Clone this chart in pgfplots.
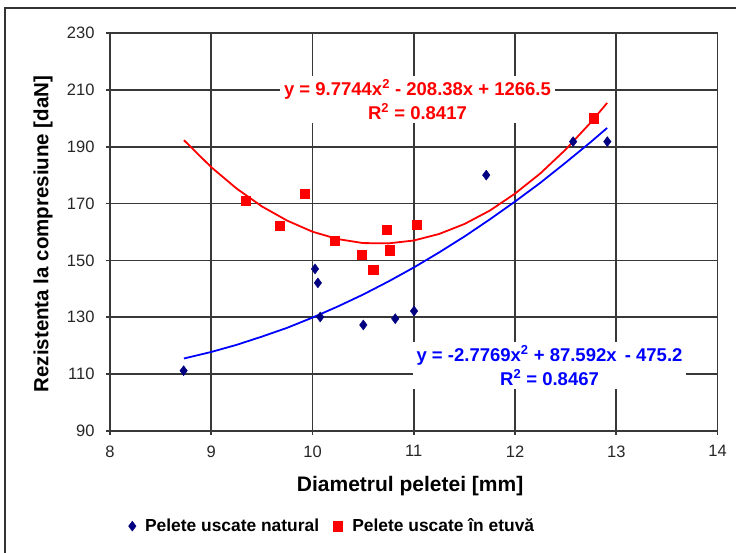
\documentclass[border=0pt]{standalone}
\usepackage{pgfplots}
\pgfplotsset{compat=1.18}
\usepackage{fontspec}
\setmainfont{Liberation Sans}
\definecolor{navy}{HTML}{000080}
\definecolor{gridc}{HTML}{383838}
\definecolor{bluel}{HTML}{0000FF}
\definecolor{redl}{HTML}{FF0000}

\pgfplotstableread{
x y
8.727 111.2
10.025 147.0
10.053 142.1
10.076 130.1
10.502 127.3
10.817 129.5
11.003 132.2
11.716 180.0
12.574 191.8
12.912 191.8
}\natural

\pgfplotstableread{
x y
9.344 171.1
9.677 162.2
9.923 173.4
10.220 157.0
10.484 152.0
10.600 146.7
10.729 160.8
10.766 153.6
11.026 162.7
12.778 200.0
}\etuva

\pgfplotstableread{
x y
8.73 115.5
9.00 117.8
9.25 120.3
9.50 123.2
9.75 126.3
10.00 129.9
10.25 133.8
10.50 138.0
10.75 142.6
11.00 147.5
11.25 152.8
11.50 158.4
11.75 164.4
12.00 170.7
12.25 177.3
12.50 184.4
12.75 191.7
12.91 196.6
}\trendnat

\pgfplotstableread{
x y
8.73 192.3
9.00 182.8
9.25 175.3
9.50 169.0
9.75 164.0
10.00 160.1
10.25 157.5
10.50 156.1
10.75 156.0
11.00 157.0
11.25 159.3
11.50 162.8
11.75 167.5
12.00 173.5
12.25 180.6
12.50 189.0
12.75 198.6
12.91 205.4
}\trendet

\begin{document}
\begin{tikzpicture}
\useasboundingbox (0pt,0pt) rectangle (736pt,553pt);
\draw[line width=1.4pt, black!80] (5pt,0pt) -- (5pt,545pt) -- (736pt,545pt);
\begin{axis}[
  at={(110pt,122pt)}, anchor=south west,
  scale only axis, width=607.5pt, height=398pt,
  xmin=8, xmax=14, ymin=90, ymax=230,
  xtick={8,...,14}, ytick={90,110,...,230},
  grid=major, major grid style={gridc, line width=1.6pt},
  axis line style={gridc, line width=1.6pt},
  tick align=center, tick pos=left, major tick length=8pt,
  tick style={gridc, line width=1.6pt},
  /pgf/number format/assume math mode=true,
  tick label style={font=\fontsize{16.5}{18}\selectfont, text=black!85},
  xticklabel style={yshift=-7pt},
  yticklabel style={xshift=-8pt},
  xlabel={Diametrul peletei [mm]},
  ylabel={Rezistenta la compresiune [daN]},
  label style={font=\bfseries\fontsize{21}{24}\selectfont},
  xlabel style={at={(rel axis cs:0.494,-0.138)}, anchor=center},
  ylabel style={at={(rel axis cs:-0.110,0.495)}, anchor=center, font=\bfseries\fontsize{20.5}{24}\selectfont},
  legend style={at={(rel axis cs:0.366,-0.239)}, anchor=center, draw=none, fill=none,
    font=\bfseries\fontsize{17.4}{20}\selectfont,
    /tikz/every even column/.append style={column sep=12pt}},
  legend columns=2,
  legend cell align=left,
]
\addplot[bluel, line width=1.8pt, forget plot] table[x=x,y=y] {\trendnat};
\addplot[redl, line width=1.8pt, forget plot] table[x=x,y=y] {\trendet};
\addplot[only marks, mark=diamond*, mark size=5pt, navy, mark options={fill=navy}] table[x=x,y=y] {\natural};
\addlegendentry{\hspace*{7pt}Pelete uscate natural}
\addplot[only marks, mark=square*, mark size=4.6pt, redl, mark options={fill=redl}] table[x=x,y=y] {\etuva};
\addlegendentry{\hspace*{8pt}Pelete uscate în etuvă}
\node[fill=white, align=center, text=redl, inner xsep=4pt, inner ysep=4pt,
  font=\bfseries\fontsize{18.5}{24}\selectfont]
  at (axis cs:11.037,206.6) {y = 9.7744x\textsuperscript{2} - 208.38x + 1266.5\\R\textsuperscript{2} = 0.8417};
\node[fill=white, align=center, text=bluel, inner xsep=4pt, inner ysep=4pt,
  font=\bfseries\fontsize{18.5}{24}\selectfont]
  at (axis cs:12.341,113.0) {y = -2.7769x\textsuperscript{2} + 87.592x\, - 475.2\\R\textsuperscript{2} = 0.8467};
\end{axis}
\end{tikzpicture}
\end{document}
